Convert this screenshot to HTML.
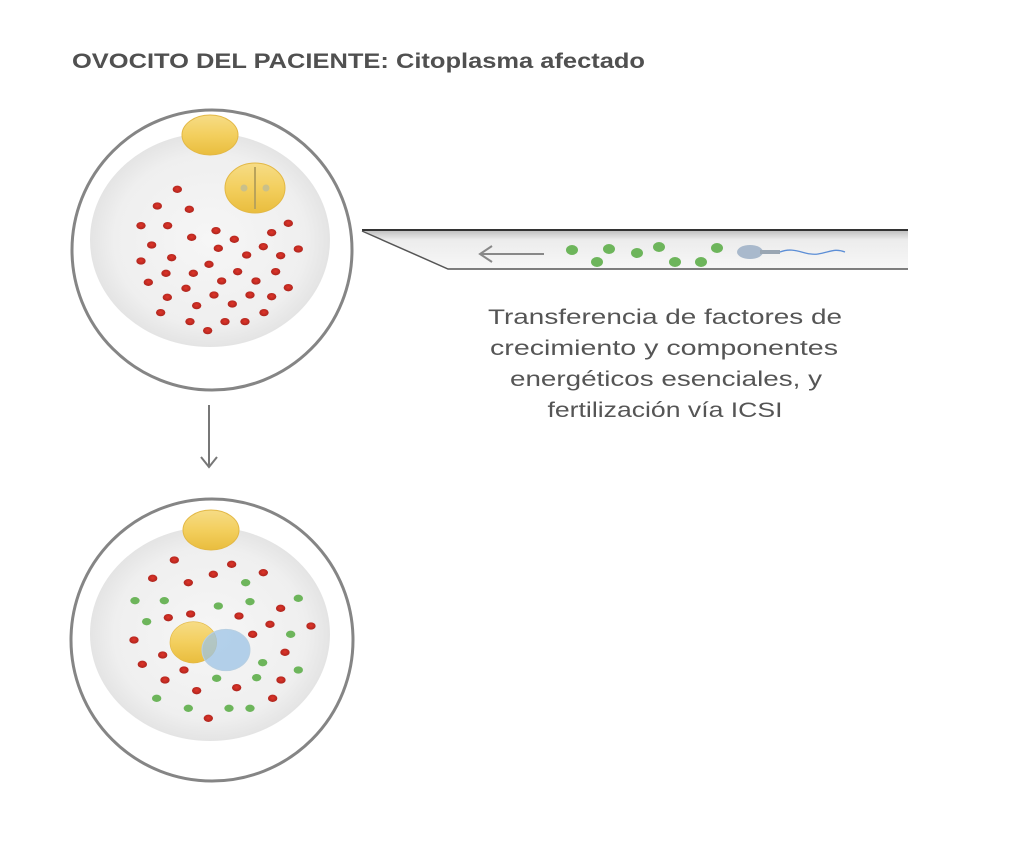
<!DOCTYPE html>
<html><head><meta charset="utf-8"><style>
html,body{margin:0;padding:0;background:#fff;}
svg{display:block;}
</style></head><body>
<svg width="1024" height="848" viewBox="0 0 1024 848" xmlns="http://www.w3.org/2000/svg">
<defs>
<radialGradient id="disc" cx="0.5" cy="0.5" r="0.5">
<stop offset="0" stop-color="#f6f6f6"/><stop offset="0.8" stop-color="#efefef"/><stop offset="1" stop-color="#e4e4e4"/>
</radialGradient>
<linearGradient id="yel" x1="0" y1="0" x2="0" y2="1">
<stop offset="0" stop-color="#f6dc86"/><stop offset="0.5" stop-color="#f3cf5e"/><stop offset="1" stop-color="#e9bd3e"/>
</linearGradient>
<radialGradient id="red" cx="0.5" cy="0.45" r="0.6">
<stop offset="0" stop-color="#e0352a"/><stop offset="1" stop-color="#a8231c"/>
</radialGradient>
<linearGradient id="pipe" x1="0" y1="0" x2="0" y2="1">
<stop offset="0" stop-color="#bdbdbd"/><stop offset="0.25" stop-color="#ececec"/><stop offset="1" stop-color="#f7f7f7"/>
</linearGradient>
<g id="r"><ellipse rx="14" ry="11" fill="url(#red)"/></g>
<g id="g"><ellipse rx="14" ry="11" fill="#6db55b"/></g>
</defs>

<text x="72" y="68" font-family="Liberation Sans, sans-serif" font-weight="bold" font-size="21" fill="#505050" textLength="573" lengthAdjust="spacingAndGlyphs">OVOCITO DEL PACIENTE: Citoplasma afectado</text>

<!-- top oocyte -->
<circle cx="212" cy="250" r="140" fill="#fff" stroke="#858585" stroke-width="3"/>
<ellipse cx="210" cy="240" rx="120" ry="107" fill="url(#disc)"/>
<ellipse cx="210" cy="135" rx="28" ry="20" fill="url(#yel)" stroke="#e3b845" stroke-width="1"/>
<ellipse cx="255" cy="188" rx="30" ry="25" fill="url(#yel)" stroke="#e3b845" stroke-width="1"/>
<line x1="255" y1="167" x2="255" y2="209" stroke="#b9a35a" stroke-width="2"/>
<circle cx="244" cy="188" r="3.5" fill="#c9c08a"/><circle cx="266" cy="188" r="3.5" fill="#c9c08a"/>
<g transform="translate(60,100) scale(0.3333)">
<use href="#r" x="352" y="268"/><use href="#r" x="292" y="318"/><use href="#r" x="388" y="328"/><use href="#r" x="243" y="377"/><use href="#r" x="323" y="377"/><use href="#r" x="468" y="392"/><use href="#r" x="395" y="412"/><use href="#r" x="523" y="418"/><use href="#r" x="635" y="398"/><use href="#r" x="685" y="370"/><use href="#r" x="275" y="435"/><use href="#r" x="475" y="445"/><use href="#r" x="610" y="440"/><use href="#r" x="715" y="447"/><use href="#r" x="243" y="483"/><use href="#r" x="335" y="473"/><use href="#r" x="447" y="493"/><use href="#r" x="560" y="465"/><use href="#r" x="662" y="467"/><use href="#r" x="318" y="520"/><use href="#r" x="400" y="520"/><use href="#r" x="533" y="515"/><use href="#r" x="647" y="515"/><use href="#r" x="265" y="547"/><use href="#r" x="485" y="543"/><use href="#r" x="588" y="543"/><use href="#r" x="378" y="565"/><use href="#r" x="685" y="563"/><use href="#r" x="322" y="592"/><use href="#r" x="462" y="585"/><use href="#r" x="570" y="585"/><use href="#r" x="635" y="590"/><use href="#r" x="410" y="617"/><use href="#r" x="517" y="612"/><use href="#r" x="302" y="638"/><use href="#r" x="612" y="638"/><use href="#r" x="390" y="665"/><use href="#r" x="495" y="665"/><use href="#r" x="555" y="665"/><use href="#r" x="443" y="692"/>
</g>

<!-- pipette -->
<polygon points="362,230 908,230 908,269 448,269" fill="url(#pipe)"/>
<polyline points="362,230 908,230" fill="none" stroke="#333" stroke-width="2"/>
<polyline points="362,231 448,269 908,269" fill="none" stroke="#555" stroke-width="1.5"/>
<line x1="480" y1="254" x2="544" y2="254" stroke="#888" stroke-width="2"/>
<polyline points="492,246 480,254 492,262" fill="none" stroke="#888" stroke-width="2"/>
<g fill="#6db55b">
<ellipse cx="572" cy="250" rx="6" ry="5"/><ellipse cx="597" cy="262" rx="6" ry="5"/><ellipse cx="609" cy="249" rx="6" ry="5"/><ellipse cx="637" cy="253" rx="6" ry="5"/><ellipse cx="659" cy="247" rx="6" ry="5"/><ellipse cx="675" cy="262" rx="6" ry="5"/><ellipse cx="701" cy="262" rx="6" ry="5"/><ellipse cx="717" cy="248" rx="6" ry="5"/>
</g>
<ellipse cx="750" cy="252" rx="13" ry="7" fill="#a9b9cc"/>
<rect x="760" y="250" width="20" height="4" fill="#9aa6b3"/>
<path d="M780,252 C795,246 805,256 818,254 C830,252 835,248 845,252" fill="none" stroke="#5c8ed6" stroke-width="1.3"/>

<g font-family="Liberation Sans, sans-serif" font-size="21" fill="#555" text-anchor="middle">
<text x="665" y="324" textLength="354" lengthAdjust="spacingAndGlyphs">Transferencia de factores de</text>
<text x="664" y="355" textLength="348" lengthAdjust="spacingAndGlyphs">crecimiento y componentes</text>
<text x="666" y="386" textLength="312" lengthAdjust="spacingAndGlyphs">energéticos esenciales, y</text>
<text x="665" y="417" textLength="235" lengthAdjust="spacingAndGlyphs">fertilización vía ICSI</text>
</g>

<!-- down arrow -->
<line x1="209" y1="405" x2="209" y2="467" stroke="#777" stroke-width="2"/>
<polyline points="201,457 209,467 217,457" fill="none" stroke="#777" stroke-width="2"/>

<!-- bottom oocyte -->
<circle cx="212" cy="640" r="141" fill="#fff" stroke="#858585" stroke-width="3"/>
<ellipse cx="210" cy="634" rx="120" ry="107" fill="url(#disc)"/>
<ellipse cx="211" cy="530" rx="28" ry="20" fill="url(#yel)" stroke="#e3b845" stroke-width="1"/>
<g transform="translate(60,495) scale(0.3333)">
<use href="#r" x="343" y="195"/><use href="#r" x="515" y="208"/><use href="#r" x="278" y="250"/><use href="#r" x="385" y="263"/><use href="#r" x="460" y="238"/><use href="#r" x="610" y="233"/><use href="#r" x="325" y="368"/><use href="#r" x="392" y="357"/><use href="#r" x="537" y="363"/><use href="#r" x="662" y="340"/><use href="#r" x="630" y="388"/><use href="#r" x="753" y="393"/><use href="#r" x="578" y="418"/><use href="#r" x="222" y="435"/><use href="#r" x="308" y="480"/><use href="#r" x="675" y="472"/><use href="#r" x="247" y="508"/><use href="#r" x="372" y="525"/><use href="#r" x="315" y="555"/><use href="#r" x="663" y="555"/><use href="#r" x="410" y="587"/><use href="#r" x="530" y="578"/><use href="#r" x="638" y="610"/><use href="#r" x="445" y="670"/>
<use href="#g" x="557" y="263"/><use href="#g" x="225" y="317"/><use href="#g" x="313" y="317"/><use href="#g" x="475" y="333"/><use href="#g" x="570" y="320"/><use href="#g" x="715" y="310"/><use href="#g" x="260" y="380"/><use href="#g" x="692" y="418"/><use href="#g" x="608" y="503"/><use href="#g" x="715" y="525"/><use href="#g" x="470" y="550"/><use href="#g" x="590" y="548"/><use href="#g" x="290" y="610"/><use href="#g" x="385" y="640"/><use href="#g" x="507" y="640"/><use href="#g" x="570" y="640"/>
<ellipse cx="400" cy="442" rx="70" ry="62" fill="url(#yel)" stroke="#e3b845" stroke-width="2"/>
<ellipse cx="498" cy="465" rx="72" ry="62" fill="#9cc3e6" fill-opacity="0.75" stroke="#b7cfe2" stroke-width="3"/>
</g>
</svg>
</body></html>
